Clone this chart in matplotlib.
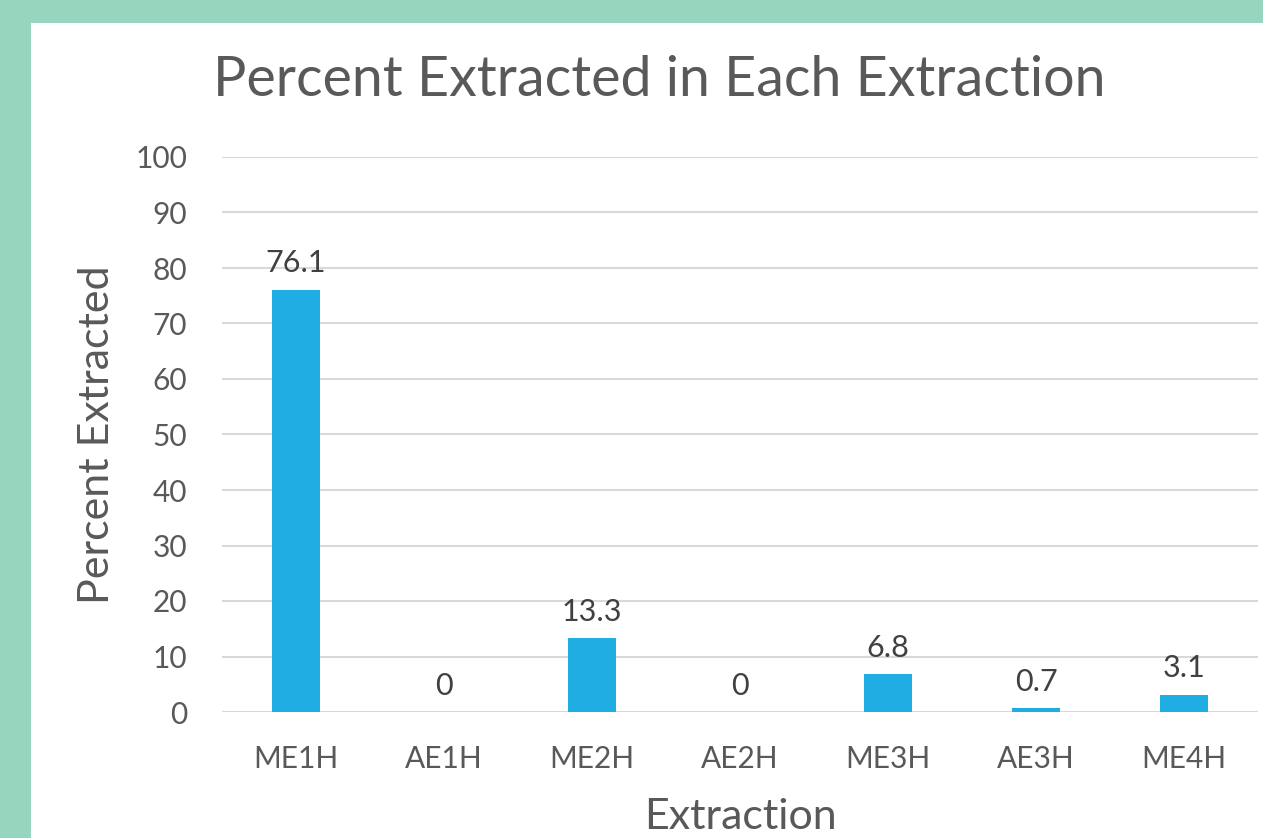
import matplotlib.pyplot as plt
from matplotlib.patches import Rectangle
import numpy as np

categories = ['ME1H', 'AE1H', 'ME2H', 'AE2H', 'ME3H', 'AE3H', 'ME4H']
percent = [76.1, 0, 13.3, 0, 6.8, 0.7, 3.1]
value_labels = ['76.1', '0', '13.3', '0', '6.8', '0.7', '3.1']
yticks = np.arange(0, 101, 10)

plt.rcParams['font.family'] = ['Lato', 'DejaVu Sans']

fig = plt.figure(figsize=(12.63, 8.38), dpi=100)
fig.patch.set_facecolor('#98D5BE')
# white panel, teal strip only on left and top
fig.patches.append(Rectangle((31 / 1263, 0), 1, 1 - 23 / 838, transform=fig.transFigure,
                             facecolor='white', edgecolor='none', zorder=-10))

ax = fig.add_axes([222 / 1263, 126 / 838, 1036 / 1263, 555 / 838])
ax.set_facecolor('none')

x = np.arange(len(categories))
ax.bar(x, percent, width=0.32, color='#1FADE4', zorder=3)

for xi, v, lab in zip(x, percent, value_labels):
    ax.annotate(lab, (xi, v), xytext=(0, 9), textcoords='offset points',
                ha='center', va='bottom', fontsize=22, color='#404040')

ax.set_xlim(-0.5, len(categories) - 0.5)
ax.set_ylim(0, 100)
ax.set_yticks(yticks)
ax.set_xticks(x, categories)
ax.tick_params(axis='both', length=0, labelsize=21.5, labelcolor='#595959')
ax.tick_params(axis='y', pad=25)
ax.tick_params(axis='x', pad=24)
ax.grid(axis='y', color='#D9D9D9', linewidth=1.5, zorder=0)
for s in ax.spines.values():
    s.set_visible(False)

ax.set_xlabel('Extraction', fontsize=31, color='#595959', labelpad=18)
ax.set_ylabel('Percent Extracted', fontsize=31, color='#595959', labelpad=14)
fig.text(659 / 1263, 1 - 80 / 838, 'Percent Extracted in Each Extraction',
         ha='center', va='center', fontsize=40, color='#595959')

plt.savefig('out.png', dpi=100)
